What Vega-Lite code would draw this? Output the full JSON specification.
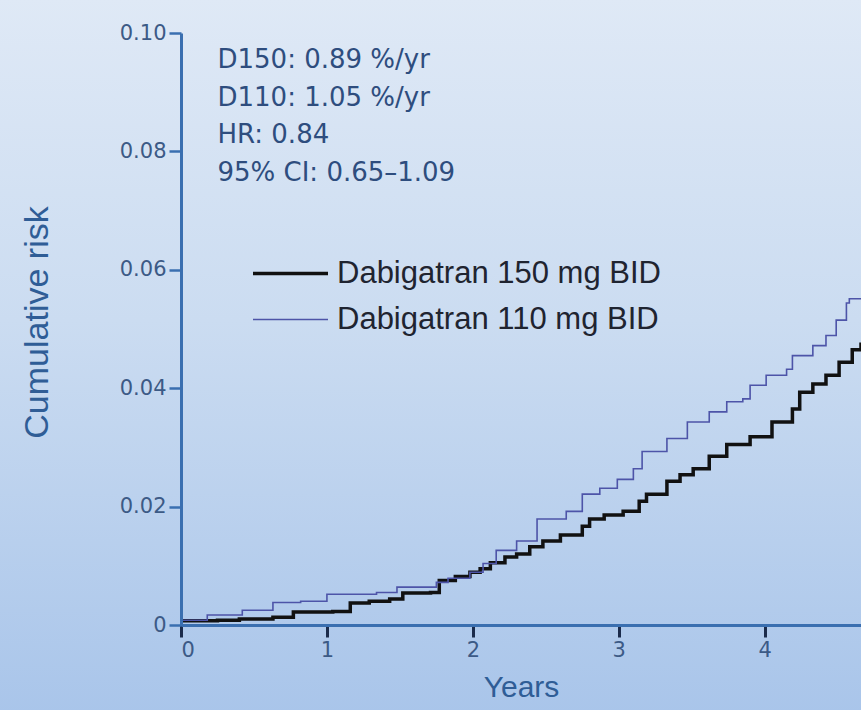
{
  "$schema": "https://vega.github.io/schema/vega-lite/v6.json",
  "width": 680,
  "height": 592,
  "autosize": {"type": "none"},
  "padding": {"left": 181, "top": 33, "right": 0, "bottom": 85},
  "background": "#c6d8ef",
  "config": {
    "view": {"stroke": null},
    "legend": {"padding": 0}
  },
  "datasets": {
    "curves": [
      {"series": "Dabigatran 150 mg BID", "year": 0.0, "risk": 0.0007},
      {"series": "Dabigatran 150 mg BID", "year": 0.25, "risk": 0.0008},
      {"series": "Dabigatran 150 mg BID", "year": 0.40, "risk": 0.0010},
      {"series": "Dabigatran 150 mg BID", "year": 0.63, "risk": 0.0013},
      {"series": "Dabigatran 150 mg BID", "year": 0.77, "risk": 0.0022},
      {"series": "Dabigatran 150 mg BID", "year": 1.04, "risk": 0.0023},
      {"series": "Dabigatran 150 mg BID", "year": 1.16, "risk": 0.0037},
      {"series": "Dabigatran 150 mg BID", "year": 1.29, "risk": 0.0040},
      {"series": "Dabigatran 150 mg BID", "year": 1.43, "risk": 0.0044},
      {"series": "Dabigatran 150 mg BID", "year": 1.52, "risk": 0.0054},
      {"series": "Dabigatran 150 mg BID", "year": 1.71, "risk": 0.0055},
      {"series": "Dabigatran 150 mg BID", "year": 1.77, "risk": 0.0075},
      {"series": "Dabigatran 150 mg BID", "year": 1.88, "risk": 0.0082},
      {"series": "Dabigatran 150 mg BID", "year": 1.98, "risk": 0.0089},
      {"series": "Dabigatran 150 mg BID", "year": 2.05, "risk": 0.0095},
      {"series": "Dabigatran 150 mg BID", "year": 2.12, "risk": 0.0105},
      {"series": "Dabigatran 150 mg BID", "year": 2.22, "risk": 0.0115},
      {"series": "Dabigatran 150 mg BID", "year": 2.30, "risk": 0.0120},
      {"series": "Dabigatran 150 mg BID", "year": 2.39, "risk": 0.0132},
      {"series": "Dabigatran 150 mg BID", "year": 2.48, "risk": 0.0142},
      {"series": "Dabigatran 150 mg BID", "year": 2.60, "risk": 0.0152},
      {"series": "Dabigatran 150 mg BID", "year": 2.75, "risk": 0.0167},
      {"series": "Dabigatran 150 mg BID", "year": 2.80, "risk": 0.0179},
      {"series": "Dabigatran 150 mg BID", "year": 2.90, "risk": 0.0186},
      {"series": "Dabigatran 150 mg BID", "year": 3.03, "risk": 0.0192},
      {"series": "Dabigatran 150 mg BID", "year": 3.14, "risk": 0.0209},
      {"series": "Dabigatran 150 mg BID", "year": 3.19, "risk": 0.0221},
      {"series": "Dabigatran 150 mg BID", "year": 3.33, "risk": 0.0243},
      {"series": "Dabigatran 150 mg BID", "year": 3.42, "risk": 0.0254},
      {"series": "Dabigatran 150 mg BID", "year": 3.51, "risk": 0.0264},
      {"series": "Dabigatran 150 mg BID", "year": 3.62, "risk": 0.0285},
      {"series": "Dabigatran 150 mg BID", "year": 3.74, "risk": 0.0305},
      {"series": "Dabigatran 150 mg BID", "year": 3.90, "risk": 0.0318},
      {"series": "Dabigatran 150 mg BID", "year": 4.05, "risk": 0.0343},
      {"series": "Dabigatran 150 mg BID", "year": 4.19, "risk": 0.0365},
      {"series": "Dabigatran 150 mg BID", "year": 4.24, "risk": 0.0393},
      {"series": "Dabigatran 150 mg BID", "year": 4.33, "risk": 0.0407},
      {"series": "Dabigatran 150 mg BID", "year": 4.42, "risk": 0.0422},
      {"series": "Dabigatran 150 mg BID", "year": 4.51, "risk": 0.0444},
      {"series": "Dabigatran 150 mg BID", "year": 4.60, "risk": 0.0465},
      {"series": "Dabigatran 150 mg BID", "year": 4.66, "risk": 0.0477},
      {"series": "Dabigatran 110 mg BID", "year": 0.0, "risk": 0.0008},
      {"series": "Dabigatran 110 mg BID", "year": 0.18, "risk": 0.0017},
      {"series": "Dabigatran 110 mg BID", "year": 0.42, "risk": 0.0025},
      {"series": "Dabigatran 110 mg BID", "year": 0.63, "risk": 0.0038},
      {"series": "Dabigatran 110 mg BID", "year": 0.82, "risk": 0.0040},
      {"series": "Dabigatran 110 mg BID", "year": 1.00, "risk": 0.0052},
      {"series": "Dabigatran 110 mg BID", "year": 1.34, "risk": 0.0055},
      {"series": "Dabigatran 110 mg BID", "year": 1.48, "risk": 0.0064},
      {"series": "Dabigatran 110 mg BID", "year": 1.75, "risk": 0.0072},
      {"series": "Dabigatran 110 mg BID", "year": 1.83, "risk": 0.0079},
      {"series": "Dabigatran 110 mg BID", "year": 1.98, "risk": 0.0089},
      {"series": "Dabigatran 110 mg BID", "year": 2.07, "risk": 0.0104},
      {"series": "Dabigatran 110 mg BID", "year": 2.16, "risk": 0.0126},
      {"series": "Dabigatran 110 mg BID", "year": 2.30, "risk": 0.0142},
      {"series": "Dabigatran 110 mg BID", "year": 2.44, "risk": 0.0179},
      {"series": "Dabigatran 110 mg BID", "year": 2.64, "risk": 0.0192},
      {"series": "Dabigatran 110 mg BID", "year": 2.75, "risk": 0.0221},
      {"series": "Dabigatran 110 mg BID", "year": 2.87, "risk": 0.0231},
      {"series": "Dabigatran 110 mg BID", "year": 2.99, "risk": 0.0246},
      {"series": "Dabigatran 110 mg BID", "year": 3.10, "risk": 0.0264},
      {"series": "Dabigatran 110 mg BID", "year": 3.16, "risk": 0.0293},
      {"series": "Dabigatran 110 mg BID", "year": 3.33, "risk": 0.0315},
      {"series": "Dabigatran 110 mg BID", "year": 3.47, "risk": 0.0343},
      {"series": "Dabigatran 110 mg BID", "year": 3.62, "risk": 0.0360},
      {"series": "Dabigatran 110 mg BID", "year": 3.74, "risk": 0.0377},
      {"series": "Dabigatran 110 mg BID", "year": 3.85, "risk": 0.0382},
      {"series": "Dabigatran 110 mg BID", "year": 3.90, "risk": 0.0405},
      {"series": "Dabigatran 110 mg BID", "year": 4.01, "risk": 0.0422},
      {"series": "Dabigatran 110 mg BID", "year": 4.15, "risk": 0.0432},
      {"series": "Dabigatran 110 mg BID", "year": 4.19, "risk": 0.0455},
      {"series": "Dabigatran 110 mg BID", "year": 4.33, "risk": 0.0472},
      {"series": "Dabigatran 110 mg BID", "year": 4.42, "risk": 0.0489},
      {"series": "Dabigatran 110 mg BID", "year": 4.49, "risk": 0.0515},
      {"series": "Dabigatran 110 mg BID", "year": 4.56, "risk": 0.0544},
      {"series": "Dabigatran 110 mg BID", "year": 4.58, "risk": 0.0551},
      {"series": "Dabigatran 110 mg BID", "year": 4.66, "risk": 0.0551}
    ]
  },
  "layer": [
    {
      "description": "Slide backdrop: soft vertical blue gradient behind the whole figure",
      "data": {"values": [{}]},
      "mark": {
        "type": "rect",
        "clip": false,
        "fill": {
          "gradient": "linear",
          "x1": 0, "y1": 0, "x2": 0, "y2": 1,
          "stops": [
            {"offset": 0, "color": "#dfe9f6"},
            {"offset": 0.45, "color": "#cbdcf1"},
            {"offset": 1, "color": "#a9c5ea"}
          ]
        }
      },
      "encoding": {
        "x": {"datum": -1.25, "type": "quantitative", "scale": {"domain": [0, 4.66], "nice": false, "zero": false}},
        "x2": {"datum": 4.7},
        "y": {"datum": -0.015, "type": "quantitative", "scale": {"domain": [0, 0.1], "nice": false}},
        "y2": {"datum": 0.106}
      }
    },
    {
      "data": {"name": "curves"},
      "mark": {"type": "line", "interpolate": "step-after", "clip": false},
      "encoding": {
        "x": {
          "field": "year", "type": "quantitative",
          "scale": {"domain": [0, 4.66], "nice": false, "zero": false},
          "axis": {
            "zindex": 1,
            "values": [0, 1, 2, 3, 4],
            "format": "d",
            "grid": false,
            "domainColor": "#3a6fb0",
            "domainWidth": 3,
            "tickColor": "#1b2b4b",
            "tickWidth": 3,
            "tickSize": 12,
            "labelFont": "DejaVu Sans",
            "labelFontSize": 21,
            "labelColor": "#3c5a86",
            "labelPadding": 2,
            "title": "Years",
            "titleFont": "Liberation Sans",
            "titleFontSize": 30,
            "titleFontWeight": "normal",
            "titleColor": "#2f5d96",
            "titlePadding": 12
          }
        },
        "y": {
          "field": "risk", "type": "quantitative",
          "scale": {"domain": [0, 0.1], "nice": false},
          "axis": {
            "zindex": 1,
            "values": [0, 0.02, 0.04, 0.06, 0.08, 0.1],
            "labelExpr": "datum.value == 0 ? '0' : format(datum.value, '.2f')",
            "grid": false,
            "domainColor": "#3a6fb0",
            "domainWidth": 3,
            "tickColor": "#3a6fb0",
            "tickWidth": 2.5,
            "tickSize": 12,
            "labelFont": "DejaVu Sans",
            "labelFontSize": 21,
            "labelColor": "#3c5a86",
            "labelPadding": 3,
            "title": "Cumulative risk",
            "titleFont": "Liberation Sans",
            "titleFontSize": 34,
            "titleFontWeight": "normal",
            "titleColor": "#2f5d96",
            "titleAngle": -90,
            "titleAlign": "center",
            "titleBaseline": "middle",
            "titleX": -144,
            "titleY": 289
          }
        },
        "color": {
          "field": "series", "type": "nominal",
          "scale": {
            "domain": ["Dabigatran 150 mg BID", "Dabigatran 110 mg BID"],
            "range": ["#111111", "#4d54a8"]
          },
          "legend": {
            "title": null,
            "orient": "none",
            "legendX": 69,
            "legendY": 225,
            "symbolType": "M-1,0H5",
            "symbolSize": 625,
            "labelFont": "Liberation Sans",
            "labelFontSize": 31,
            "labelLimit": 0,
            "labelColor": "#1f2430",
            "labelOffset": 56,
            "rowPadding": 14
          }
        },
        "strokeWidth": {
          "field": "series", "type": "nominal",
          "scale": {
            "domain": ["Dabigatran 150 mg BID", "Dabigatran 110 mg BID"],
            "range": [3.5, 1.6]
          },
          "legend": {
            "title": null,
            "orient": "none",
            "legendX": 69,
            "legendY": 225,
            "symbolType": "M-1,0H5",
            "symbolSize": 625,
            "labelFont": "Liberation Sans",
            "labelFontSize": 31,
            "labelLimit": 0,
            "labelColor": "#1f2430",
            "labelOffset": 56,
            "rowPadding": 14
          }
        }
      }
    },
    {
      "description": "Summary statistics block in the upper-left of the plot",
      "data": {"values": [{}]},
      "mark": {
        "type": "text",
        "text": "D150: 0.89 %/yr\nD110: 1.05 %/yr\nHR: 0.84\n95% CI: 0.65–1.09",
        "lineBreak": "\n",
        "lineHeight": 37.5,
        "align": "left",
        "baseline": "top",
        "font": "DejaVu Sans",
        "fontSize": 26,
        "color": "#2e4d7e"
      },
      "encoding": {
        "x": {"datum": 0.25, "type": "quantitative"},
        "y": {"datum": 0.0976, "type": "quantitative"}
      }
    }
  ]
}
